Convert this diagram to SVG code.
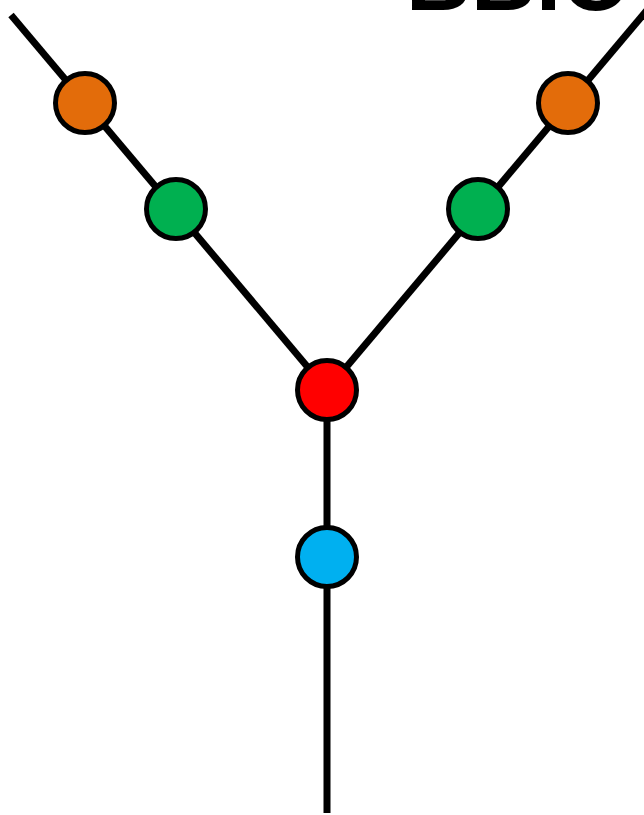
<svg xmlns="http://www.w3.org/2000/svg" width="644" height="815" viewBox="0 0 644 815">
<style>
.edge{stroke:#000;stroke-width:7;fill:none}
.node circle{stroke:#000;stroke-width:5}
.title{font-family:"Liberation Sans",Arial,sans-serif;font-weight:bold;font-size:90px;fill:#000}
</style>
<rect width="644" height="815" fill="#fff"/>
<text class="title" x="406" y="9.5">BBIO</text>
<g id="connectors">
<line class="edge" x1="11" y1="15" x2="327" y2="390"/>
<line class="edge" x1="648" y1="9" x2="327" y2="390"/>
<line class="edge" x1="327" y1="390" x2="327" y2="813"/>
</g>
<g id="n-orange-left" class="node"><circle cx="85" cy="103" r="29.5" fill="#E36C0A"/></g>
<g id="n-green-left" class="node"><circle cx="176" cy="209" r="29.5" fill="#00B050"/></g>
<g id="n-orange-right" class="node"><circle cx="568" cy="103" r="29.5" fill="#E36C0A"/></g>
<g id="n-green-right" class="node"><circle cx="478" cy="209" r="29.5" fill="#00B050"/></g>
<g id="n-red" class="node"><circle cx="327" cy="390" r="29.5" fill="#FF0000"/></g>
<g id="n-blue" class="node"><circle cx="327" cy="557" r="29.5" fill="#00B0F0"/></g>
</svg>
